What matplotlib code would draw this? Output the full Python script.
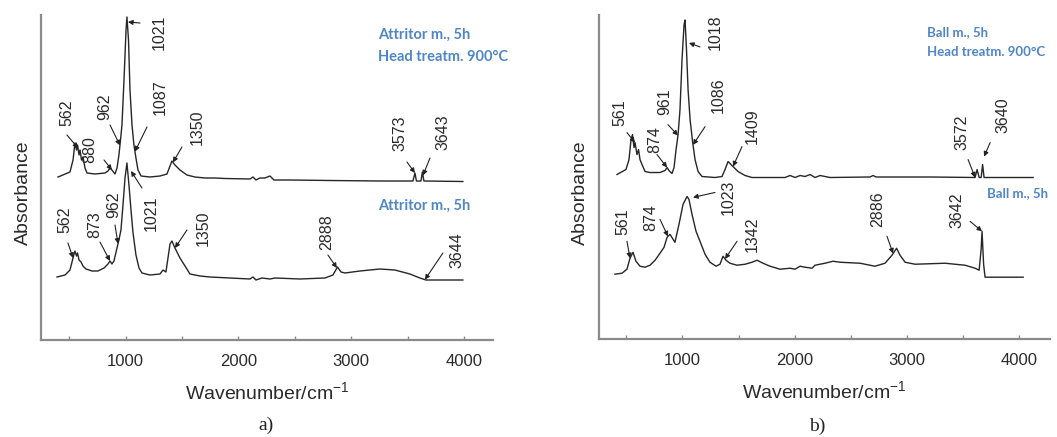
"""FTIR spectra of milled powders, before and after heat treatment (panels a and b)."""
import matplotlib

matplotlib.use("Agg")
import matplotlib.pyplot as plt
import numpy as np

# ---- data: wavenumber (cm-1) and absorbance (arb. units, traces offset) ----
attritor_ht_wn = [400, 506, 533, 550, 564, 573, 586, 595, 608, 621, 639, 657, 728, 816, 843, 861,
                  878, 905, 923, 940, 954, 967, 985, 1003, 1011, 1025, 1038, 1056, 1073, 1091, 1109,
                  1136, 1215, 1304, 1366, 1393, 1410, 1437, 1481, 1543, 1614, 1703, 1792, 1880, 2102,
                  2129, 2155, 2190, 2235, 2279, 2315, 2457, 2811, 3254, 3547, 3565, 3578, 3618, 3631,
                  3644, 3990]
attritor_ht_abs = [1.63, 1.68, 1.80, 1.97, 1.90, 1.95, 1.85, 1.90, 1.80, 1.83, 1.72, 1.67, 1.66, 1.67,
                   1.69, 1.72, 1.70, 1.66, 1.72, 1.85, 2.00, 2.15, 2.60, 3.10, 3.23, 3.00, 2.50, 2.15,
                   1.95, 1.82, 1.70, 1.64, 1.63, 1.64, 1.66, 1.74, 1.79, 1.75, 1.70, 1.65, 1.63, 1.62,
                   1.62, 1.615, 1.61, 1.63, 1.60, 1.62, 1.62, 1.64, 1.60, 1.60, 1.595, 1.59, 1.59, 1.67,
                   1.59, 1.59, 1.68, 1.59, 1.585]

attritor_wn = [391, 462, 506, 524, 542, 550, 564, 573, 586, 604, 621, 648, 701, 754, 808, 843, 861,
               878, 896, 923, 940, 958, 976, 994, 1011, 1029, 1047, 1064, 1091, 1118, 1144, 1215,
               1304, 1331, 1357, 1375, 1393, 1410, 1437, 1481, 1526, 1570, 1659, 1747, 1925, 2102,
               2129, 2155, 2208, 2279, 2324, 2545, 2767, 2838, 2878, 2909, 2944, 3077, 3254, 3387,
               3520, 3609, 3662, 3990]
attritor_abs = [0.63, 0.65, 0.70, 0.78, 0.86, 0.89, 0.84, 0.87, 0.80, 0.78, 0.74, 0.71, 0.69, 0.69,
                0.72, 0.76, 0.79, 0.76, 0.79, 0.92, 1.00, 1.10, 1.35, 1.62, 1.77, 1.55, 1.30, 1.08,
                0.85, 0.72, 0.67, 0.65, 0.66, 0.70, 0.68, 0.82, 0.96, 0.99, 0.92, 0.82, 0.74, 0.66,
                0.64, 0.63, 0.62, 0.61, 0.63, 0.60, 0.62, 0.61, 0.62, 0.61, 0.62, 0.65, 0.73, 0.68,
                0.67, 0.69, 0.71, 0.70, 0.66, 0.62, 0.60, 0.60]

ball_ht_wn = [418, 498, 525, 543, 556, 570, 579, 596, 610, 623, 641, 668, 712, 801, 846, 864, 881,
              908, 926, 944, 962, 979, 997, 1015, 1024, 1037, 1051, 1069, 1091, 1113, 1140, 1175,
              1291, 1353, 1380, 1407, 1442, 1496, 1558, 1620, 1781, 1914, 1959, 2003, 2048, 2092,
              2137, 2181, 2226, 2315, 2671, 2698, 2725, 3206, 3606, 3624, 3642, 3660, 3673, 3686,
              4007, 4123]
ball_ht_abs = [1.65, 1.70, 1.80, 2.00, 2.05, 1.92, 1.97, 1.85, 1.90, 1.80, 1.75, 1.68, 1.67, 1.67,
               1.69, 1.72, 1.69, 1.66, 1.72, 1.90, 2.05, 2.30, 2.80, 3.15, 3.20, 2.90, 2.50, 2.20,
               1.98, 1.80, 1.68, 1.63, 1.62, 1.63, 1.70, 1.78, 1.74, 1.68, 1.64, 1.62, 1.62, 1.62,
               1.64, 1.62, 1.64, 1.63, 1.65, 1.62, 1.64, 1.62, 1.625, 1.64, 1.625, 1.625, 1.62, 1.70,
               1.62, 1.62, 1.75, 1.62, 1.62, 1.62]

ball_wn = [400, 463, 507, 534, 561, 587, 623, 668, 712, 757, 801, 837, 864, 890, 934, 970, 1006,
           1042, 1059, 1086, 1122, 1157, 1202, 1246, 1300, 1335, 1362, 1389, 1424, 1487, 1558, 1620,
           1665, 1718, 1781, 1870, 1959, 2003, 2048, 2092, 2155, 2181, 2270, 2341, 2404, 2582, 2715,
           2804, 2866, 2907, 2938, 2983, 3072, 3339, 3517, 3606, 3642, 3660, 3668, 3682, 3695, 3829,
           4034]
ball_abs = [0.65, 0.66, 0.70, 0.81, 0.87, 0.78, 0.73, 0.72, 0.74, 0.79, 0.86, 0.92, 1.02, 1.05,
            0.97, 1.15, 1.35, 1.43, 1.40, 1.25, 1.08, 0.98, 0.85, 0.77, 0.73, 0.75, 0.83, 0.79,
            0.76, 0.74, 0.75, 0.77, 0.79, 0.76, 0.73, 0.70, 0.71, 0.70, 0.73, 0.72, 0.71, 0.74,
            0.76, 0.78, 0.77, 0.76, 0.73, 0.76, 0.84, 0.91, 0.84, 0.77, 0.75, 0.76, 0.74, 0.71,
            0.69, 0.90, 1.08, 0.75, 0.62, 0.62, 0.62]

# ---- peak labels: (text, arrow tip wavenumber, tip absorbance or None=on curve) ----
attritor_ht_peaks = [("562", 577, None), ("880", 878, None), ("962", 949, None),
                     ("1021", 1020, 3.18), ("1087", 1082, None), ("1350", 1419, None),
                     ("3573", 3565, None), ("3643", 3636, None)]
attritor_peaks = [("562", 533, None), ("873", 861, None), ("962", 932, None),
                  ("1021", 1047, 1.69), ("1350", 1437, None), ("2888", 2873, None),
                  ("3644", 3653, None)]
ball_ht_peaks = [("561", 579, None), ("874", 864, None), ("961", 961, None),
                 ("1018", 1059, 2.97), ("1086", 1095, None), ("1409", 1451, None),
                 ("3572", 3606, None), ("3640", 3686, 1.83)]
ball_peaks = [("561", 534, None), ("874", 872, None), ("1023", 1095, 1.42),
              ("1342", 1380, None), ("2886", 2876, None), ("3642", 3668, None)]

# ---- layout of the labels: (text x, text y, arrow tail x, arrow tail y) ----
attritor_ht_layout = [(479, 2.27, 479, 2.05), (683, 1.90, 808, 1.80), (816, 2.33, 861, 2.15),
                      (1295, 3.08, 1127, 3.17), (1304, 2.43, 1189, 2.13), (1632, 2.13, 1499, 1.93),
                      (3432, 2.07, 3494, 1.78), (3813, 2.08, 3698, 1.82)]
attritor_layout = [(462, 1.20, 488, 0.97), (728, 1.15, 772, 0.98), (896, 1.35, 905, 1.15),
                   (1224, 1.27, 1144, 1.52), (1685, 1.12, 1543, 1.10), (2784, 1.08, 2793, 0.85),
                   (3937, 0.90, 3813, 0.87)]
ball_ht_layout = [(445, 2.27, 507, 2.07), (757, 2.00, 774, 1.85), (846, 2.38, 872, 2.15),
                  (1291, 3.08, 1157, 2.93), (1318, 2.45, 1202, 2.13), (1620, 2.13, 1531, 1.93),
                  (3490, 2.07, 3544, 1.80), (3855, 2.25, 3740, 1.97)]
ball_layout = [(472, 1.18, 507, 0.98), (721, 1.22, 801, 1.20), (1407, 1.42, 1291, 1.47),
               (1620, 1.05, 1487, 0.98), (2742, 1.30, 2822, 1.03), (3446, 1.29, 3562, 1.18)]

LINE = "#262626"
AXIS = "#8a8a8a"
BLUE = "#4f86c6"
SANS = "Liberation Sans"

plt.rcParams["mathtext.fontset"] = "custom"
plt.rcParams["mathtext.rm"] = SANS
plt.rcParams["mathtext.it"] = SANS

fig = plt.figure(figsize=(10.57, 4.37), dpi=100)
ax_a = fig.add_axes([41 / 1057, 97 / 437, 452 / 1057, 325 / 437])
ax_b = fig.add_axes([599 / 1057, 98 / 437, 451 / 1057, 324 / 437])


def style_axes(ax, xlim, ylab_x):
    ax.set_xlim(*xlim)
    ax.set_ylim(0, 3.25)
    for side in ("top", "right"):
        ax.spines[side].set_visible(False)
    for side in ("left", "bottom"):
        ax.spines[side].set_color(AXIS)
        ax.spines[side].set_linewidth(1.6)
    ax.set_yticks([])
    ax.set_xticks([1000, 2000, 3000, 4000])
    ax.set_xticks([500, 1500, 2500, 3500], minor=True)
    ax.tick_params(axis="x", which="both", direction="in", color=AXIS, length=3, width=1,
                   pad=10, labelsize=12, labelcolor="#2a2a2a")
    for lab in ax.get_xticklabels():
        lab.set_fontfamily(SANS)
    ax.set_xlabel(r"Wavenumber/cm$^{\mathregular{-1}}$", fontsize=14, family=SANS,
                  color="#2a2a2a")
    ax.xaxis.set_label_coords(0.5, -0.128)
    ax.set_ylabel("Absorbance", fontsize=14, family=SANS, color="#2a2a2a")
    ax.yaxis.set_label_coords(ylab_x, 0.453)


def draw_trace(ax, wn, ab, peaks, layout):
    ax.plot(wn, ab, color=LINE, lw=1.0)
    for (label, tip_x, tip_y), (tx, ty, ax_x, ax_y) in zip(peaks, layout):
        if tip_y is None:
            tip_y = np.interp(tip_x, wn, ab)
        ax.annotate("", xy=(tip_x, tip_y), xytext=(ax_x, ax_y),
                    arrowprops=dict(arrowstyle="-|>", color="#222222", lw=0.8,
                                    mutation_scale=7, shrinkA=0, shrinkB=0))
        ax.text(tx, ty, label, rotation=90, ha="center", va="center", fontsize=11.5,
                family=SANS, color="#2a2a2a")


def sample_note(ax, x, y, text, size):
    ax.text(x, y, text, ha="left", va="center", fontsize=size, family="Lato",
            fontweight="bold", color=BLUE)


# panel a: attritor milled
style_axes(ax_a, (249, 4257), -0.020)
draw_trace(ax_a, attritor_ht_wn, attritor_ht_abs, attritor_ht_peaks, attritor_ht_layout)
draw_trace(ax_a, attritor_wn, attritor_abs, attritor_peaks, attritor_layout)
sample_note(ax_a, 3237, 3.05, "Attritor m., 5h", 10.5)
sample_note(ax_a, 3237, 2.83, "Head treatm. 900°C", 10.5)
sample_note(ax_a, 3237, 1.34, "Attritor m., 5h", 10.5)

# panel b: ball milled
style_axes(ax_b, (258, 4273), -0.022)
draw_trace(ax_b, ball_ht_wn, ball_ht_abs, ball_ht_peaks, ball_ht_layout)
draw_trace(ax_b, ball_wn, ball_abs, ball_peaks, ball_layout)
sample_note(ax_b, 3179, 3.08, "Ball m., 5h", 9.5)
sample_note(ax_b, 3179, 2.88, "Head treatm. 900°C", 9.5)
sample_note(ax_b, 3713, 1.46, "Ball m., 5h", 9.5)

fig.text(266 / 1057, 1 - 425 / 437, "a)", ha="center", va="center", fontsize=14,
         family="Liberation Serif", color="#222222")
fig.text(817 / 1057, 1 - 426 / 437, "b)", ha="center", va="center", fontsize=14,
         family="Liberation Serif", color="#222222")

fig.savefig("out.png", dpi=100, facecolor="white")
